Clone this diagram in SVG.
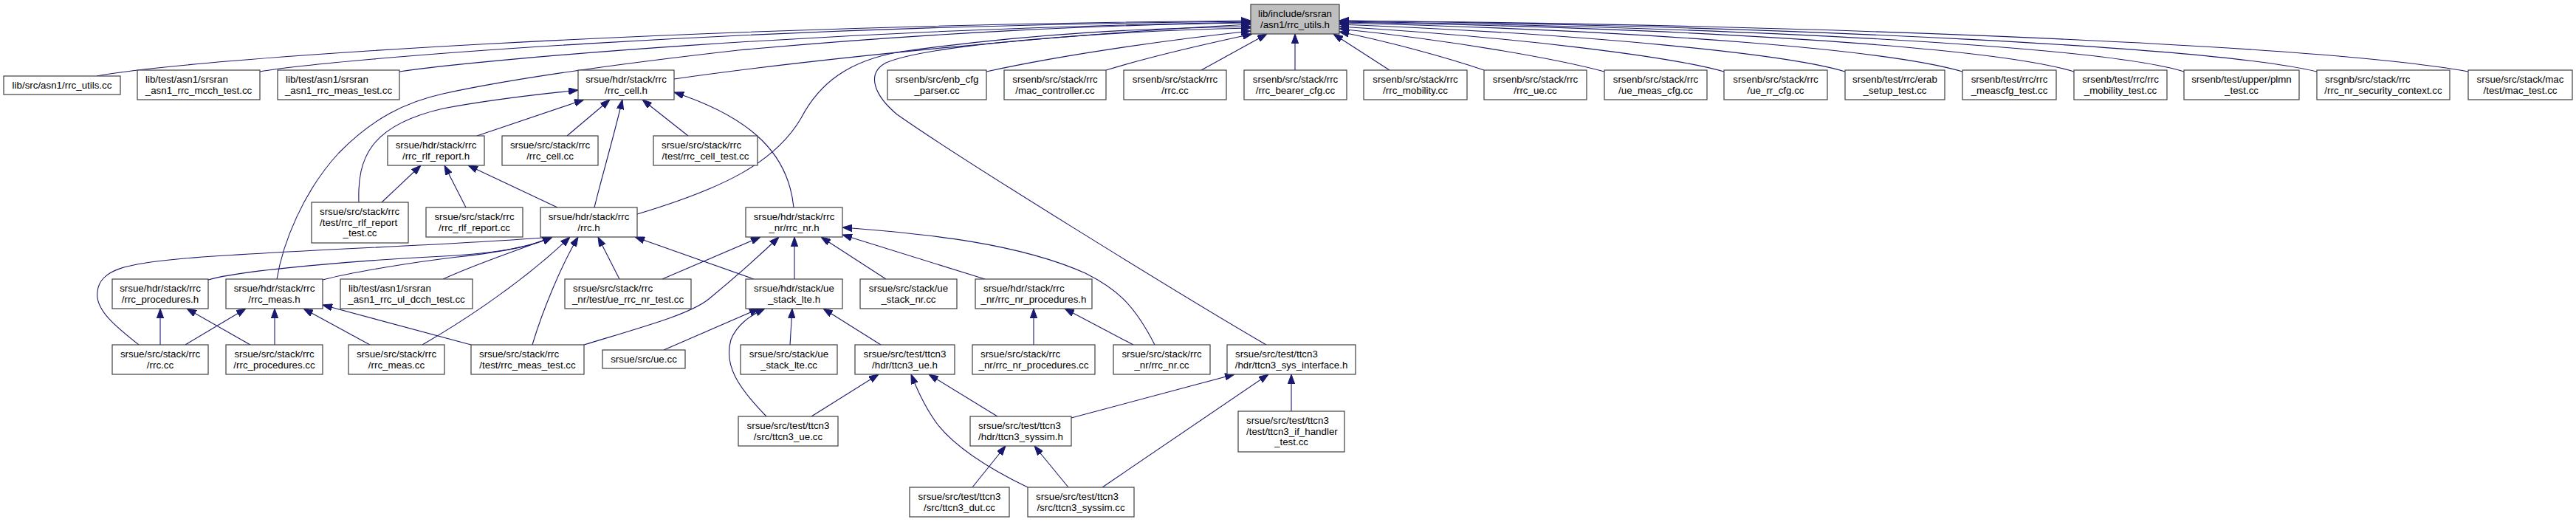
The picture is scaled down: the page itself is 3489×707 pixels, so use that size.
<svg xmlns="http://www.w3.org/2000/svg" width="3489" height="707" viewBox="0 0 3489 707">
<style>
.n rect{fill:#ffffff;stroke:#404040;stroke-width:1.2}
.root rect{fill:#bfbfbf}
text{font-family:"Liberation Sans",Arial,Helvetica,sans-serif;font-size:13.33px;fill:#000000}
.m{text-anchor:middle}
#edges path{fill:none;stroke:#191970;stroke-width:1.1;marker-end:url(#ah)}
</style>
<defs>
<marker id="ah" viewBox="0 0 13 9.4" refX="13" refY="4.7" markerWidth="13" markerHeight="9.4" orient="auto" markerUnits="userSpaceOnUse"><path d="M0,0L13,4.7L0,9.4z" fill="#191970" stroke="#191970" stroke-width="1"/></marker>
</defs>
<rect width="3489" height="707" fill="#ffffff"/>
<g id="edges">
<path d="M131,103 C250,80 900,35 1694,28"/>
<path d="M352,97 C450,80 1000,35 1694,29"/>
<path d="M541,97 C640,82 1100,40 1694,30"/>
<path d="M375,378 C383,330 410,260 459,207 C505,160 550,138 600,127 C700,105 850,85 1000,68 C1250,45 1500,33 1694,31"/>
<path d="M913,107 C1100,80 1450,45 1694,33"/>
<path d="M863,290 C980,255 1050,220 1085,160 C1110,112 1150,82 1220,70 C1400,45 1550,38 1694,36"/>
<path d="M1715,467 C1600,400 1300,215 1215,155 C1185,130 1172,100 1200,85 C1260,60 1500,42 1694,38"/>
<path d="M1336,97 C1450,72 1600,52 1694,42"/>
<path d="M1498,95 C1560,76 1640,58 1696,46"/>
<path d="M1627,95 L1716,46"/>
<path d="M1754,95 L1754,46"/>
<path d="M1882,95 L1806,46"/>
<path d="M2010,95 C1960,78 1880,56 1814,43"/>
<path d="M2173,97 C2110,80 1970,55 1814,39"/>
<path d="M2335,97 C2260,76 2050,50 1814,36"/>
<path d="M2499,97 C2420,73 2150,46 1814,33"/>
<path d="M2658,97 C2560,68 2250,42 1814,31"/>
<path d="M2809,97 C2700,64 2300,38 1814,30"/>
<path d="M2958,97 C2850,64 2400,38 1814,29"/>
<path d="M3138,97 C3000,64 2450,36 1814,28"/>
<path d="M3343,97 C3150,62 2500,34 1814,28"/>
<path d="M646,184 L791,135"/>
<path d="M768,184 L826,135"/>
<path d="M805,281 C815,240 830,190 843,135"/>
<path d="M932,184 L870,135"/>
<path d="M1075,281 C1068,210 1020,160 913,125"/>
<path d="M486,274 C484,215 500,170 600,147 C680,132 740,127 783,122"/>
<path d="M517,274 L570,224"/>
<path d="M631,281 L602,224"/>
<path d="M755,281 L634,224"/>
<path d="M188,467 C160,445 128,420 132,395 C135,365 170,357 250,350 C400,338 600,333 748,321"/>
<path d="M282,379 C330,365 500,352 600,347 C680,343 720,333 748,321"/>
<path d="M437,379 C480,368 560,355 620,348 C690,340 725,332 748,321"/>
<path d="M600,378 C650,355 710,336 748,321"/>
<path d="M572,467 C610,445 700,390 772,321"/>
<path d="M721,467 C735,420 760,360 783,321"/>
<path d="M839,378 L810,321"/>
<path d="M1021,378 L860,321"/>
<path d="M217,467 L217,418"/>
<path d="M251,467 L333,418"/>
<path d="M339,467 L253,418"/>
<path d="M372,467 L372,418"/>
<path d="M501,467 L411,418"/>
<path d="M638,467 L437,413"/>
<path d="M897,378 L1030,321"/>
<path d="M791,467 C880,440 935,425 960,405 C1000,372 1030,345 1055,321"/>
<path d="M1076,378 L1076,321"/>
<path d="M1200,378 L1112,321"/>
<path d="M1334,378 L1141,318"/>
<path d="M1564,467 C1535,410 1510,390 1470,370 C1380,330 1260,317 1141,308"/>
<path d="M899,474 L1028,418"/>
<path d="M1038,564 C1000,525 980,495 990,460 C998,440 1015,428 1036,418"/>
<path d="M1070,467 L1073,418"/>
<path d="M1193,467 L1115,418"/>
<path d="M1099,564 L1190,507"/>
<path d="M1351,564 L1258,507"/>
<path d="M1392,660 C1330,630 1290,600 1270,575 C1255,555 1243,530 1234,507"/>
<path d="M1400,467 L1400,418"/>
<path d="M1535,467 L1442,418"/>
<path d="M1451,566 L1672,507"/>
<path d="M1493,660 L1718,507"/>
<path d="M1749,557 L1749,507"/>
<path d="M1317,660 L1362,604"/>
<path d="M1447,660 L1401,604"/>
</g>
<g id="n0" class="n root"><rect x="1694" y="6" width="120" height="40"/><text class="m" x="1754" y="23">lib/include/srsran</text><text class="m" x="1754" y="37.5">/asn1/rrc_utils.h</text></g>
<g id="a1" class="n"><rect x="5" y="103" width="158" height="25"/><text class="m" x="84" y="120">lib/src/asn1/rrc_utils.cc</text></g>
<g id="a2" class="n"><rect x="186" y="95" width="166" height="40"/><text x="197" y="112">lib/test/asn1/srsran</text><text class="m" x="269" y="126.5">_asn1_rrc_mcch_test.cc</text></g>
<g id="a3" class="n"><rect x="376" y="95" width="165" height="40"/><text x="387" y="112">lib/test/asn1/srsran</text><text class="m" x="458.5" y="126.5">_asn1_rrc_meas_test.cc</text></g>
<g id="cellh" class="n"><rect x="783" y="95" width="130" height="40"/><text class="m" x="848" y="112">srsue/hdr/stack/rrc</text><text class="m" x="848" y="126.5">/rrc_cell.h</text></g>
<g id="enbcfg" class="n"><rect x="1202" y="95" width="134" height="40"/><text class="m" x="1269" y="112">srsenb/src/enb_cfg</text><text class="m" x="1269" y="126.5">_parser.cc</text></g>
<g id="macctrl" class="n"><rect x="1360" y="95" width="138" height="40"/><text class="m" x="1429" y="112">srsenb/src/stack/rrc</text><text class="m" x="1429" y="126.5">/mac_controller.cc</text></g>
<g id="enbrrc" class="n"><rect x="1522" y="95" width="139" height="40"/><text class="m" x="1591.5" y="112">srsenb/src/stack/rrc</text><text class="m" x="1591.5" y="126.5">/rrc.cc</text></g>
<g id="bearer" class="n"><rect x="1685" y="95" width="139" height="40"/><text class="m" x="1754.5" y="112">srsenb/src/stack/rrc</text><text class="m" x="1754.5" y="126.5">/rrc_bearer_cfg.cc</text></g>
<g id="mob" class="n"><rect x="1847" y="95" width="140" height="40"/><text class="m" x="1917" y="112">srsenb/src/stack/rrc</text><text class="m" x="1917" y="126.5">/rrc_mobility.cc</text></g>
<g id="rrcue" class="n"><rect x="2010" y="95" width="139" height="40"/><text class="m" x="2079.5" y="112">srsenb/src/stack/rrc</text><text class="m" x="2079.5" y="126.5">/rrc_ue.cc</text></g>
<g id="uemeas" class="n"><rect x="2173" y="95" width="139" height="40"/><text class="m" x="2242.5" y="112">srsenb/src/stack/rrc</text><text class="m" x="2242.5" y="126.5">/ue_meas_cfg.cc</text></g>
<g id="uerr" class="n"><rect x="2335" y="95" width="140" height="40"/><text class="m" x="2405" y="112">srsenb/src/stack/rrc</text><text class="m" x="2405" y="126.5">/ue_rr_cfg.cc</text></g>
<g id="erab" class="n"><rect x="2499" y="95" width="135" height="40"/><text class="m" x="2566.5" y="112">srsenb/test/rrc/erab</text><text class="m" x="2566.5" y="126.5">_setup_test.cc</text></g>
<g id="meascfg" class="n"><rect x="2658" y="95" width="127" height="40"/><text class="m" x="2721.5" y="112">srsenb/test/rrc/rrc</text><text class="m" x="2721.5" y="126.5">_meascfg_test.cc</text></g>
<g id="mobtest" class="n"><rect x="2809" y="95" width="126" height="40"/><text class="m" x="2872" y="112">srsenb/test/rrc/rrc</text><text class="m" x="2872" y="126.5">_mobility_test.cc</text></g>
<g id="plmn" class="n"><rect x="2958" y="95" width="156" height="40"/><text class="m" x="3036" y="112">srsenb/test/upper/plmn</text><text class="m" x="3036" y="126.5">_test.cc</text></g>
<g id="secctx" class="n"><rect x="3138" y="95" width="180" height="40"/><text x="3149" y="112">srsgnb/src/stack/rrc</text><text class="m" x="3228" y="126.5">/rrc_nr_security_context.cc</text></g>
<g id="mactest" class="n"><rect x="3343" y="95" width="141" height="40"/><text class="m" x="3413.5" y="112">srsue/src/stack/mac</text><text class="m" x="3413.5" y="126.5">/test/mac_test.cc</text></g>
<g id="rlfh" class="n"><rect x="525" y="184" width="131" height="40"/><text class="m" x="590.5" y="201">srsue/hdr/stack/rrc</text><text class="m" x="590.5" y="215.5">/rrc_rlf_report.h</text></g>
<g id="cellcc" class="n"><rect x="680" y="184" width="130" height="40"/><text class="m" x="745" y="201">srsue/src/stack/rrc</text><text class="m" x="745" y="215.5">/rrc_cell.cc</text></g>
<g id="celltest" class="n"><rect x="885" y="184" width="141" height="40"/><text x="896" y="201">srsue/src/stack/rrc</text><text class="m" x="955.5" y="215.5">/test/rrc_cell_test.cc</text></g>
<g id="rlftest" class="n"><rect x="422" y="274" width="131" height="55"/><text x="433" y="291">srsue/src/stack/rrc</text><text x="433" y="305.5">/test/rrc_rlf_report</text><text class="m" x="487.5" y="320">_test.cc</text></g>
<g id="rlfcc" class="n"><rect x="577" y="281" width="131" height="40"/><text class="m" x="642.5" y="298">srsue/src/stack/rrc</text><text class="m" x="642.5" y="312.5">/rrc_rlf_report.cc</text></g>
<g id="rrch" class="n"><rect x="732" y="281" width="131" height="40"/><text class="m" x="797.5" y="298">srsue/hdr/stack/rrc</text><text class="m" x="797.5" y="312.5">/rrc.h</text></g>
<g id="nrh" class="n"><rect x="1010" y="281" width="131" height="40"/><text class="m" x="1075.5" y="298">srsue/hdr/stack/rrc</text><text class="m" x="1075.5" y="312.5">_nr/rrc_nr.h</text></g>
<g id="proch" class="n"><rect x="152" y="378" width="130" height="40"/><text class="m" x="217" y="395">srsue/hdr/stack/rrc</text><text class="m" x="217" y="409.5">/rrc_procedures.h</text></g>
<g id="measch" class="n"><rect x="306" y="378" width="131" height="40"/><text class="m" x="371.5" y="395">srsue/hdr/stack/rrc</text><text class="m" x="371.5" y="409.5">/rrc_meas.h</text></g>
<g id="uldcch" class="n"><rect x="461" y="378" width="179" height="40"/><text x="472" y="395">lib/test/asn1/srsran</text><text class="m" x="550.5" y="409.5">_asn1_rrc_ul_dcch_test.cc</text></g>
<g id="uenrtest" class="n"><rect x="765" y="378" width="171" height="40"/><text x="776" y="395">srsue/src/stack/rrc</text><text class="m" x="850.5" y="409.5">_nr/test/ue_rrc_nr_test.cc</text></g>
<g id="stackh" class="n"><rect x="1010" y="378" width="131" height="40"/><text class="m" x="1075.5" y="395">srsue/hdr/stack/ue</text><text class="m" x="1075.5" y="409.5">_stack_lte.h</text></g>
<g id="stacknrcc" class="n"><rect x="1165" y="378" width="131" height="40"/><text class="m" x="1230.5" y="395">srsue/src/stack/ue</text><text class="m" x="1230.5" y="409.5">_stack_nr.cc</text></g>
<g id="nrproch" class="n"><rect x="1321" y="378" width="158" height="40"/><text x="1332" y="395">srsue/hdr/stack/rrc</text><text class="m" x="1400" y="409.5">_nr/rrc_nr_procedures.h</text></g>
<g id="rrccc" class="n"><rect x="152" y="467" width="130" height="40"/><text class="m" x="217" y="484">srsue/src/stack/rrc</text><text class="m" x="217" y="498.5">/rrc.cc</text></g>
<g id="proccc" class="n"><rect x="306" y="467" width="131" height="40"/><text class="m" x="371.5" y="484">srsue/src/stack/rrc</text><text class="m" x="371.5" y="498.5">/rrc_procedures.cc</text></g>
<g id="meascc" class="n"><rect x="472" y="467" width="130" height="40"/><text class="m" x="537" y="484">srsue/src/stack/rrc</text><text class="m" x="537" y="498.5">/rrc_meas.cc</text></g>
<g id="meastest" class="n"><rect x="638" y="467" width="153" height="40"/><text x="649" y="484">srsue/src/stack/rrc</text><text class="m" x="714.5" y="498.5">/test/rrc_meas_test.cc</text></g>
<g id="uecc" class="n"><rect x="816" y="474" width="112" height="25"/><text class="m" x="872" y="491">srsue/src/ue.cc</text></g>
<g id="stackcc" class="n"><rect x="1003" y="467" width="131" height="40"/><text class="m" x="1068.5" y="484">srsue/src/stack/ue</text><text class="m" x="1068.5" y="498.5">_stack_lte.cc</text></g>
<g id="ttcn3ueh" class="n"><rect x="1158" y="467" width="135" height="40"/><text class="m" x="1225.5" y="484">srsue/src/test/ttcn3</text><text class="m" x="1225.5" y="498.5">/hdr/ttcn3_ue.h</text></g>
<g id="nrproccc" class="n"><rect x="1317" y="467" width="166" height="40"/><text x="1328" y="484">srsue/src/stack/rrc</text><text class="m" x="1400" y="498.5">_nr/rrc_nr_procedures.cc</text></g>
<g id="nrcc" class="n"><rect x="1508" y="467" width="131" height="40"/><text class="m" x="1573.5" y="484">srsue/src/stack/rrc</text><text class="m" x="1573.5" y="498.5">_nr/rrc_nr.cc</text></g>
<g id="sysifh" class="n"><rect x="1662" y="467" width="174" height="40"/><text x="1673" y="484">srsue/src/test/ttcn3</text><text class="m" x="1749" y="498.5">/hdr/ttcn3_sys_interface.h</text></g>
<g id="ttcn3uecc" class="n"><rect x="1000" y="564" width="135" height="40"/><text class="m" x="1067.5" y="581">srsue/src/test/ttcn3</text><text class="m" x="1067.5" y="595.5">/src/ttcn3_ue.cc</text></g>
<g id="syssimh" class="n"><rect x="1314" y="564" width="137" height="40"/><text x="1325" y="581">srsue/src/test/ttcn3</text><text class="m" x="1382.5" y="595.5">/hdr/ttcn3_syssim.h</text></g>
<g id="ifhtest" class="n"><rect x="1677" y="557" width="144" height="55"/><text x="1688" y="574">srsue/src/test/ttcn3</text><text x="1688" y="588.5">/test/ttcn3_if_handler</text><text class="m" x="1749" y="603">_test.cc</text></g>
<g id="dutcc" class="n"><rect x="1232" y="660" width="135" height="40"/><text class="m" x="1299.5" y="677">srsue/src/test/ttcn3</text><text class="m" x="1299.5" y="691.5">/src/ttcn3_dut.cc</text></g>
<g id="syssimcc" class="n"><rect x="1392" y="660" width="144" height="40"/><text x="1403" y="677">srsue/src/test/ttcn3</text><text class="m" x="1464" y="691.5">/src/ttcn3_syssim.cc</text></g>
</svg>
